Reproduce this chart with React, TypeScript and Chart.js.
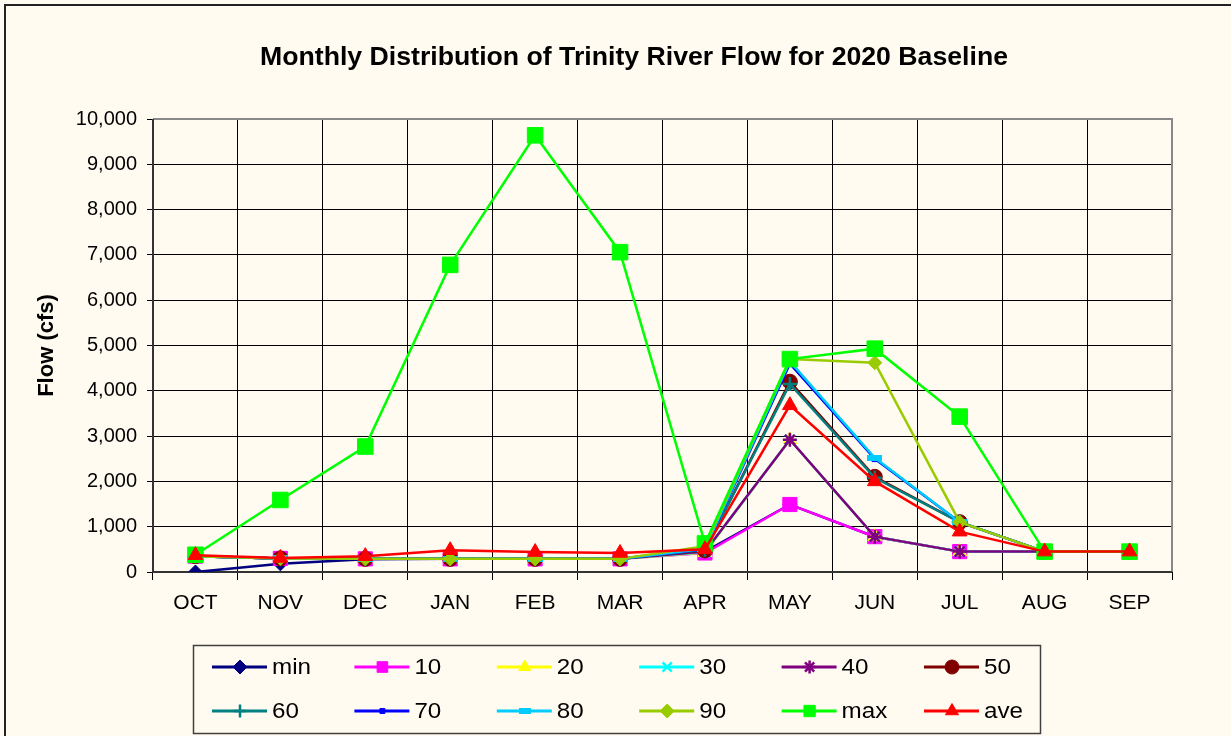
import React, { useEffect, useRef } from 'react';
import { Chart, registerables } from 'chart.js';
import { drawPoint } from 'chart.js/helpers';

Chart.register(...registerables);

const months = ['OCT', 'NOV', 'DEC', 'JAN', 'FEB', 'MAR', 'APR', 'MAY', 'JUN', 'JUL', 'AUG', 'SEP'];

const minFlow = [0, 180, 280, 290, 290, 290, 450, 1490, 780, 450, 450, 450];
const p10 = [350, 300, 290, 290, 290, 290, 420, 1490, 780, 450, 450, 450];
const p20 = [350, 300, 290, 290, 290, 290, 430, 2920, 780, 450, 450, 450];
const p30 = [350, 300, 290, 290, 290, 290, 440, 2920, 780, 450, 450, 450];
const p40 = [350, 300, 290, 290, 290, 290, 450, 2920, 780, 450, 450, 450];
const p50 = [350, 300, 290, 290, 290, 290, 480, 4200, 2100, 1100, 450, 450];
const p60 = [350, 300, 290, 290, 290, 290, 490, 4150, 2080, 1100, 450, 450];
const p70 = [350, 300, 290, 290, 290, 290, 500, 4600, 2500, 1100, 450, 450];
const p80 = [350, 300, 290, 290, 290, 290, 510, 4650, 2520, 1100, 450, 450];
const p90 = [350, 300, 290, 290, 290, 290, 570, 4700, 4620, 1100, 450, 450];
const maxFlow = [380, 1590, 2770, 6780, 9640, 7060, 630, 4700, 4930, 3430, 450, 450];
const aveFlow = [370, 310, 350, 480, 440, 420, 500, 3680, 2000, 890, 450, 450];

const seriesNames = ['min', '10', '20', '30', '40', '50', '60', '70', '80', '90', 'max', 'ave'];
const seriesValues = [minFlow, p10, p20, p30, p40, p50, p60, p70, p80, p90, maxFlow, aveFlow];
const seriesColors = ['#000080', '#FF00FF', '#FFFF00', '#00FFFF', '#800080', '#800000', '#008080', '#0000FF', '#00CCFF', '#99CC00', '#00FF00', '#FF0000'];
const seriesMarkers = ['rectRot', 'rect', 'triangle', 'crossRot', 'star', 'circle', 'cross', 'rect', 'dash', 'rectRot', 'rect', 'triangle'];
const seriesRadius = [7, 10, 8, 7, 7, 7.5, 7, 4, 0, 7, 11, 8.5];
const legendRadius = [7, 7.5, 7, 6.5, 6.5, 7, 6.5, 3.5, 0, 7, 8, 7.5];

const title = 'Monthly Distribution of Trinity River Flow for 2020 Baseline';
const yTitle = 'Flow (cfs)';
const BG = '#FFFBF0';
const FONT = '"Liberation Sans", Arial, sans-serif';

function makeDash(color: string, w: number, h: number) {
  const c = document.createElement('canvas');
  c.width = w;
  c.height = h;
  const g = c.getContext('2d')!;
  g.fillStyle = color;
  g.fillRect(0, 0, w, h);
  return c;
}

export default function App() {
  const ref = useRef<HTMLCanvasElement | null>(null);

  useEffect(() => {
    if (!ref.current) return;
    const dashImg = makeDash('#00CCFF', 15, 6);
    const legendDash = makeDash('#00CCFF', 12, 6);

    const styleOf = (i: number) => (seriesMarkers[i] === 'dash' ? dashImg : seriesMarkers[i]);
    const thinStyles = ['crossRot', 'star', 'cross'];

    const datasets = seriesNames.map((name, i) => ({
      label: name,
      data: seriesValues[i],
      borderColor: seriesColors[i],
      backgroundColor: seriesColors[i],
      borderWidth: 2.5,
      pointStyle: styleOf(i) as any,
      pointRadius: seriesRadius[i] || 7,
      pointHoverRadius: seriesRadius[i] || 7,
      pointBorderColor: seriesColors[i],
      pointBackgroundColor: seriesColors[i],
      pointBorderWidth: thinStyles.includes(seriesMarkers[i]) ? 2.5 : 1,
      tension: 0,
      order: seriesNames.length - i,
    }));

    const bgPlugin = {
      id: 'bgFrame',
      beforeDraw(chart: any) {
        const ctx = chart.ctx;
        ctx.save();
        ctx.fillStyle = BG;
        ctx.fillRect(0, 0, chart.width, chart.height);
        ctx.strokeStyle = '#222222';
        ctx.lineWidth = 2;
        ctx.strokeRect(5, 5, chart.width + 20, chart.height + 20);
        // chart title
        ctx.font = `bold 25px ${FONT}`;
        ctx.fillStyle = '#000000';
        ctx.textBaseline = 'middle';
        ctx.textAlign = 'center';
        const w = ctx.measureText(title).width;
        const sx = 748 / w;
        ctx.translate(634, 58);
        ctx.scale(sx, 1);
        ctx.fillText(title, 0, 0);
        ctx.restore();
      },
      beforeDatasetsDraw(chart: any) {
        const { ctx, chartArea } = chart;
        ctx.save();
        ctx.strokeStyle = '#888888';
        ctx.lineWidth = 2;
        ctx.beginPath();
        ctx.moveTo(chartArea.left, chartArea.top);
        ctx.lineTo(chartArea.right, chartArea.top);
        ctx.lineTo(chartArea.right, chartArea.bottom);
        ctx.stroke();
        ctx.strokeStyle = '#333333';
        ctx.beginPath();
        ctx.moveTo(chartArea.left, chartArea.top);
        ctx.lineTo(chartArea.left, chartArea.bottom);
        ctx.lineTo(chartArea.right, chartArea.bottom);
        ctx.stroke();
        ctx.restore();
      },
    };

    const legendPlugin = {
      id: 'boxLegend',
      afterDraw(chart: any) {
        const ctx = chart.ctx;
        const boxX = 193, boxY = 645, boxW = 847, boxH = 88;
        ctx.save();
        ctx.fillStyle = BG;
        ctx.fillRect(boxX, boxY, boxW, boxH);
        ctx.strokeStyle = '#404040';
        ctx.lineWidth = 1.5;
        ctx.strokeRect(boxX + 0.5, boxY + 0.5, boxW, boxH);
        const cols = 6;
        const colW = 142.4;
        const rowYs = [667, 711];
        ctx.font = `22px ${FONT}`;
        ctx.textBaseline = 'middle';
        ctx.textAlign = 'left';
        seriesNames.forEach((name, i) => {
          const col = i % cols;
          const row = Math.floor(i / cols);
          const x0 = 212 + col * colW;
          const y = rowYs[row];
          const color = seriesColors[i];
          ctx.strokeStyle = color;
          ctx.lineWidth = 3;
          ctx.beginPath();
          ctx.moveTo(x0, y);
          ctx.lineTo(x0 + 55, y);
          ctx.stroke();
          ctx.fillStyle = color;
          ctx.strokeStyle = color;
          const m = seriesMarkers[i];
          ctx.lineWidth = thinStyles.includes(m) ? 2.5 : 1;
          drawPoint(ctx, {
            pointStyle: m === 'dash' ? legendDash : m,
            radius: legendRadius[i] || 7,
            rotation: 0,
            borderWidth: ctx.lineWidth,
          } as any, x0 + 28, y);
          ctx.fillStyle = '#000000';
          ctx.save();
          ctx.translate(x0 + 60, y + 1);
          ctx.scale(1.1, 1);
          ctx.fillText(name, 0, 0);
          ctx.restore();
        });
        ctx.restore();
      },
    };

    const chart = new Chart(ref.current, {
      type: 'line',
      data: { labels: months, datasets: datasets as any },
      plugins: [bgPlugin, legendPlugin],
      options: {
        responsive: false,
        animation: false,
        devicePixelRatio: 1,
        layout: { padding: { left: 0, right: 59, top: 119, bottom: 100 } },
        plugins: {
          legend: { display: false },
          tooltip: { enabled: false },
          title: { display: false },
        },
        scales: {
          x: {
            type: 'category',
            offset: true,
            grid: {
              offset: true,
              color: '#000000',
              lineWidth: 1,
              tickLength: 8,
              drawTicks: true,
            },
            border: { display: false },
            ticks: {
              color: '#000000',
              font: { family: FONT, size: 21 },
              padding: 11,
              maxRotation: 0,
              autoSkip: false,
            },
            afterFit(scale: any) {
              scale.height = 64;
            },
          },
          y: {
            min: 0,
            max: 10000,
            grid: {
              color: '#000000',
              lineWidth: 1,
              tickLength: 6,
            },
            border: { display: false },
            ticks: {
              stepSize: 1000,
              color: '#000000',
              font: { family: FONT, size: 20 },
              padding: 10,
              callback: (v: any) => Number(v).toLocaleString('en-US'),
            },
            title: {
              display: true,
              text: yTitle,
              color: '#000000',
              font: { family: FONT, size: 22, weight: 'bold' },
              padding: { top: 34, bottom: 0 },
            },
            afterFit(scale: any) {
              scale.width = 153;
            },
          },
        },
      },
    });
    return () => chart.destroy();
  }, []);

  return (
    <div style={{ position: 'fixed', left: 0, top: 0, width: 1231, height: 736, background: BG }}>
      <canvas ref={ref} width={1231} height={736} style={{ display: 'block' }} />
    </div>
  );
}
